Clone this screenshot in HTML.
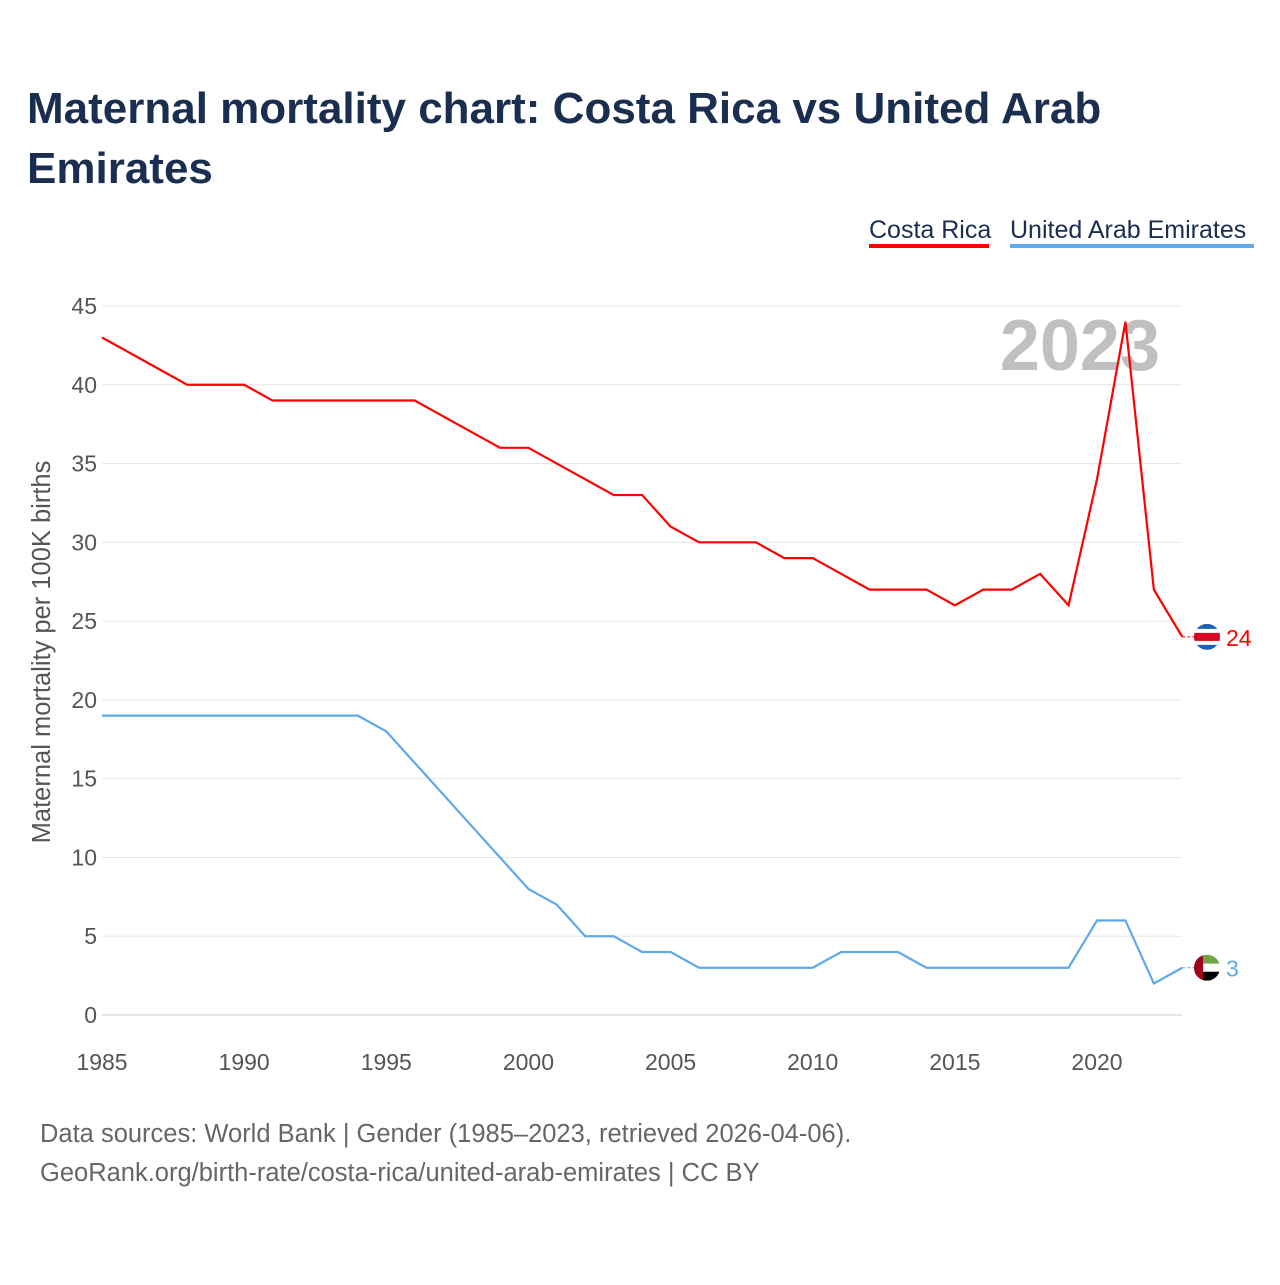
<!DOCTYPE html>
<html><head><meta charset="utf-8"><style>
body{margin:0;background:#fff;font-family:"Liberation Sans",sans-serif;}
</style></head><body>
<svg width="1280" height="1280" xmlns="http://www.w3.org/2000/svg">
<rect width="1280" height="1280" fill="#fff"/>
<text x="27" y="123" font-size="44" font-weight="bold" fill="#1a2e4f">Maternal mortality chart: Costa Rica vs United Arab</text>
<text x="27" y="183" font-size="44" font-weight="bold" fill="#1a2e4f">Emirates</text>
<g>
<text x="869" y="238" font-size="25" fill="#1a2e4f">Costa Rica</text>
<rect x="869" y="244" width="120" height="4" fill="#f00"/>
<text x="1010" y="238" font-size="25" fill="#1a2e4f">United Arab Emirates</text>
<rect x="1010" y="244" width="244" height="4" fill="#5fa8ec"/>
</g>
<g id="grid"></g>
<text x="1160" y="370" font-size="72" font-weight="bold" fill="#c0c0c0" text-anchor="end">2023</text>
<text transform="translate(50,652) rotate(-90)" font-size="25.5" fill="#555" text-anchor="middle">Maternal mortality per 100K births</text>
<g id="series"></g>
<text x="40" y="1142" font-size="25.5" fill="#666">Data sources: World Bank | Gender (1985–2023, retrieved 2026-04-06).</text>
<text x="40" y="1181" font-size="25.5" fill="#666">GeoRank.org/birth-rate/costa-rica/united-arab-emirates | CC BY</text>
</svg>
<script>
const years=[];for(let y=1985;y<=2023;y++)years.push(y);
const costaRica=[43,42,41,40,40,40,39,39,39,39,39,39,38,37,36,36,35,34,33,33,31,30,30,30,29,29,28,27,27,27,26,27,27,28,26,34,44,27,24];
const uae=[19,19,19,19,19,19,19,19,19,19,18,16,14,12,10,8,7,5,5,4,4,3,3,3,3,3,4,4,4,3,3,3,3,3,3,6,6,2,3];
const yTicks=[0,5,10,15,20,25,30,35,40,45];
const xTicks=[1985,1990,1995,2000,2005,2010,2015,2020];
const NS="http://www.w3.org/2000/svg";
const X=v=>102+(v-1985)*(995/35);
const Y=v=>1015-v*(709/45);
const grid=document.getElementById('grid');
function mk(t,a,p){const e=document.createElementNS(NS,t);for(const k in a)e.setAttribute(k,a[k]);p.appendChild(e);return e;}
yTicks.forEach(t=>{
 const l=mk('line',{x1:102,x2:1182,y1:Y(t),y2:Y(t),stroke:t===0?'#ccc':'#e6e6e6','stroke-width':1},grid);
 
 
 const tx=mk('text',{x:97,y:Y(t)+8,'font-size':23,fill:'#555','text-anchor':'end'},grid);tx.textContent=t;
 
 
});
xTicks.forEach(t=>{
 const tx=mk('text',{x:X(t),y:1070,'font-size':23,fill:'#555','text-anchor':'middle'},grid);tx.textContent=t;
 
 
});
const s=document.getElementById('series');
function series(vals,color,name){
 const p=mk('path',{d:vals.map((v,i)=>(i?'L':'M')+X(years[i])+','+Y(v)).join(''),fill:'none',stroke:color,'stroke-width':2.2},s);
 
 
 const last=vals[vals.length-1],lx=X(years[years.length-1]),ly=Y(last);
 mk('line',{x1:lx,x2:1195,y1:ly,y2:ly,stroke:color,'stroke-width':1,'stroke-dasharray':'3,2'},s);
 const t=mk('text',{x:1226,y:ly+9,'font-size':23,fill:color},s);t.textContent=last;
 
 
 return ly;
}
const cy=series(costaRica,'#f00','costa-rica');
const uy=series(uae,'#5fa8ec','uae');
const g1=mk('g',{},s);
mk('clipPath',{id:'c1'},g1).appendChild(document.createElementNS(NS,'circle'));
const c1=document.querySelector('#c1 circle');c1.setAttribute('cx',1207);c1.setAttribute('cy',cy);c1.setAttribute('r',13);
const f1=mk('g',{'clip-path':'url(#c1)'},g1);
mk('rect',{x:1194,y:cy-13,width:26,height:26,fill:'#1d5fb4'},f1);
mk('rect',{x:1194,y:cy-8,width:26,height:16,fill:'#fff'},f1);
mk('rect',{x:1194,y:cy-4,width:26,height:8,fill:'#d80027'},f1);
const g2=mk('g',{},s);
mk('clipPath',{id:'c2'},g2).appendChild(document.createElementNS(NS,'circle'));
const c2=document.querySelector('#c2 circle');c2.setAttribute('cx',1207);c2.setAttribute('cy',uy);c2.setAttribute('r',13);
const f2=mk('g',{'clip-path':'url(#c2)'},g2);
mk('rect',{x:1194,y:uy-13,width:26,height:9,fill:'#6da544'},f2);
mk('rect',{x:1194,y:uy-4,width:26,height:8,fill:'#fff'},f2);
mk('rect',{x:1194,y:uy+4,width:26,height:9,fill:'#000'},f2);
mk('rect',{x:1194,y:uy-13,width:9,height:26,fill:'#a2001d'},f2);
</script>
</body></html>
